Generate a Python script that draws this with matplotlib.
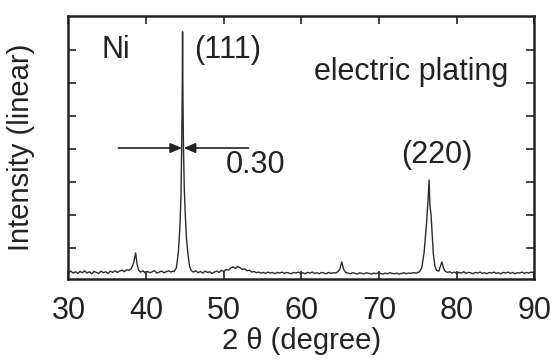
import numpy as np
import matplotlib.pyplot as plt

plt.rcParams['font.family'] = ['Liberation Sans', 'DejaVu Sans']

# XRD pattern (2 theta in degree, intensity in arbitrary linear units)
two_theta = [30.0, 30.3, 30.6, 30.9, 31.2, 31.5, 31.8, 32.1, 32.4, 32.7,
             33.0, 33.3, 33.6, 33.9, 34.2, 34.5, 34.8, 35.1, 35.4, 35.7,
             36.0, 36.3, 36.6, 36.9, 37.2, 37.5, 37.8, 38.1, 38.4, 38.65,
             38.85, 39.05, 39.3, 39.6, 39.9, 40.2, 40.5, 40.8, 41.1, 41.4,
             41.7, 42.0, 42.3, 42.6, 42.9, 43.2, 43.4, 43.6, 43.9, 44.15,
             44.35, 44.5, 44.58, 44.65, 44.7, 44.75, 44.82, 44.92, 45.05, 45.2,
             45.4, 45.6, 45.8, 46.1, 46.4, 46.7, 47.0, 47.3, 47.6, 47.9,
             48.2, 48.5, 48.8, 49.1, 49.4, 49.7, 50.0, 50.3, 50.6, 50.9,
             51.2, 51.5, 51.8, 52.1, 52.4, 52.7, 53.0, 53.3, 53.6, 53.9,
             54.2, 54.5, 54.8, 55.1, 55.4, 55.7, 56.0, 56.3, 56.6, 56.9,
             57.2, 57.5, 57.8, 58.1, 58.4, 58.7, 59.0, 59.3, 59.6, 59.9,
             60.2, 60.5, 60.8, 61.1, 61.4, 61.7, 62.0, 62.3, 62.6, 62.9,
             63.2, 63.5, 63.8, 64.1, 64.4, 64.7, 64.95, 65.2, 65.45, 65.7,
             66.0, 66.3, 66.6, 66.9, 67.2, 67.5, 67.8, 68.1, 68.4, 68.7,
             69.0, 69.3, 69.6, 69.9, 70.2, 70.5, 70.8, 71.1, 71.4, 71.7,
             72.0, 72.3, 72.6, 72.9, 73.2, 73.5, 73.8, 74.1, 74.4, 74.8,
             75.2, 75.5, 75.8, 76.1, 76.3, 76.45, 76.55, 76.7, 76.85, 77.0,
             77.2, 77.4, 77.7, 77.9, 78.1, 78.3, 78.5, 78.8, 79.1, 79.4,
             79.7, 80.0, 80.3, 80.6, 80.9, 81.2, 81.5, 81.8, 82.1, 82.4,
             82.7, 83.0, 83.3, 83.6, 83.9, 84.2, 84.5, 84.8, 85.1, 85.4,
             85.7, 86.0, 86.3, 86.6, 86.9, 87.2, 87.5, 87.8, 88.1, 88.4,
             88.7, 89.0, 89.3, 89.6, 90.0]
intensity = [0.26, 0.30, 0.24, 0.28, 0.23, 0.29, 0.25, 0.31, 0.24, 0.28,
             0.22, 0.29, 0.26, 0.23, 0.30, 0.25, 0.28, 0.23, 0.30, 0.26,
             0.31, 0.26, 0.30, 0.33, 0.28, 0.34, 0.32, 0.38, 0.55, 0.85,
             0.50, 0.32, 0.27, 0.31, 0.24, 0.29, 0.25, 0.28, 0.31, 0.24,
             0.27, 0.30, 0.25, 0.28, 0.31, 0.27, 0.30, 0.28, 0.40, 0.85,
             1.60, 2.60, 4.00, 5.50, 7.55, 5.50, 4.00, 2.80, 2.00, 1.30,
             0.80, 0.45, 0.32, 0.27, 0.31, 0.25, 0.29, 0.24, 0.30, 0.26,
             0.28, 0.23, 0.27, 0.30, 0.26, 0.32, 0.29, 0.35, 0.33, 0.39,
             0.43, 0.38, 0.44, 0.40, 0.35, 0.37, 0.31, 0.33, 0.27, 0.29,
             0.25, 0.27, 0.24, 0.26, 0.23, 0.27, 0.24, 0.26, 0.22, 0.26,
             0.24, 0.27, 0.23, 0.26, 0.24, 0.22, 0.26, 0.24, 0.27, 0.23,
             0.25, 0.22, 0.26, 0.24, 0.27, 0.23, 0.25, 0.22, 0.26, 0.24,
             0.22, 0.26, 0.23, 0.25, 0.24, 0.28, 0.36, 0.58, 0.35, 0.26,
             0.24, 0.22, 0.25, 0.23, 0.21, 0.25, 0.23, 0.22, 0.25, 0.23,
             0.21, 0.24, 0.22, 0.25, 0.23, 0.21, 0.24, 0.22, 0.25, 0.23,
             0.22, 0.24, 0.21, 0.23, 0.25, 0.22, 0.24, 0.23, 0.25, 0.24,
             0.28, 0.40, 0.85, 1.70, 2.40, 3.06, 2.30, 2.00, 1.40, 0.80,
             0.45, 0.32, 0.30, 0.45, 0.58, 0.40, 0.30, 0.26, 0.28, 0.24,
             0.27, 0.23, 0.26, 0.24, 0.28, 0.23, 0.26, 0.25, 0.22, 0.26,
             0.24, 0.27, 0.23, 0.25, 0.22, 0.26, 0.24, 0.27, 0.23, 0.25,
             0.22, 0.26, 0.24, 0.27, 0.23, 0.26, 0.22, 0.25, 0.24, 0.27,
             0.23, 0.26, 0.24, 0.27, 0.25]

xticks = [30, 40, 50, 60, 70, 80, 90]
yticks = [1, 2, 3, 4, 5, 6, 7]

# FWHM marker of the (111) peak
fwhm_y = 4.03
fwhm_left = [36.44, 44.62]
fwhm_right = [53.2, 44.85]

fs = 22

fig = plt.figure(figsize=(5.54, 3.61), dpi=100)
ax = fig.add_axes([0.1235, 0.2271, 0.8410, 0.7285])

ax.plot(two_theta, intensity, color='#2b2b2b', lw=1.0)

ax.annotate('', xy=(fwhm_left[1], fwhm_y), xytext=(fwhm_left[0], fwhm_y),
            arrowprops=dict(arrowstyle='-|>,head_length=0.7,head_width=0.3',
                            color='#222222', lw=1.2, shrinkA=0, shrinkB=0))
ax.annotate('', xy=(fwhm_right[1], fwhm_y), xytext=(fwhm_right[0], fwhm_y),
            arrowprops=dict(arrowstyle='-|>,head_length=0.7,head_width=0.3',
                            color='#222222', lw=1.2, shrinkA=0, shrinkB=0))

ax.text(36.1, 7.0, 'Ni', fontsize=fs, ha='center', va='center', color='#222222')
ax.text(50.5, 7.0, '(111)', fontsize=fs, ha='center', va='center', color='#222222')
ax.text(74.1, 6.33, 'electric plating', fontsize=fs, ha='center', va='center', color='#222222')
ax.text(54.1, 3.52, '0.30', fontsize=fs, ha='center', va='center', color='#222222')
ax.text(77.4, 3.82, '(220)', fontsize=fs, ha='center', va='center', color='#222222')

ax.set_xlim(30, 90)
ax.set_ylim(0.06, 8.03)
ax.set_xticks(xticks)
ax.set_yticks(yticks)
ax.set_yticklabels([])
ax.tick_params(direction='in', top=True, right=True, length=6, width=1.2,
               labelsize=fs, pad=12, colors='#222222')
for s in ax.spines.values():
    s.set_linewidth(1.8)
    s.set_color('#222222')

ax.set_xlabel('2 \u03b8 (degree)', fontsize=21, color='#222222', labelpad=1)
ax.set_ylabel('Intensity (linear)', fontsize=21, color='#222222', labelpad=12)

fig.savefig('out.png', dpi=100)
